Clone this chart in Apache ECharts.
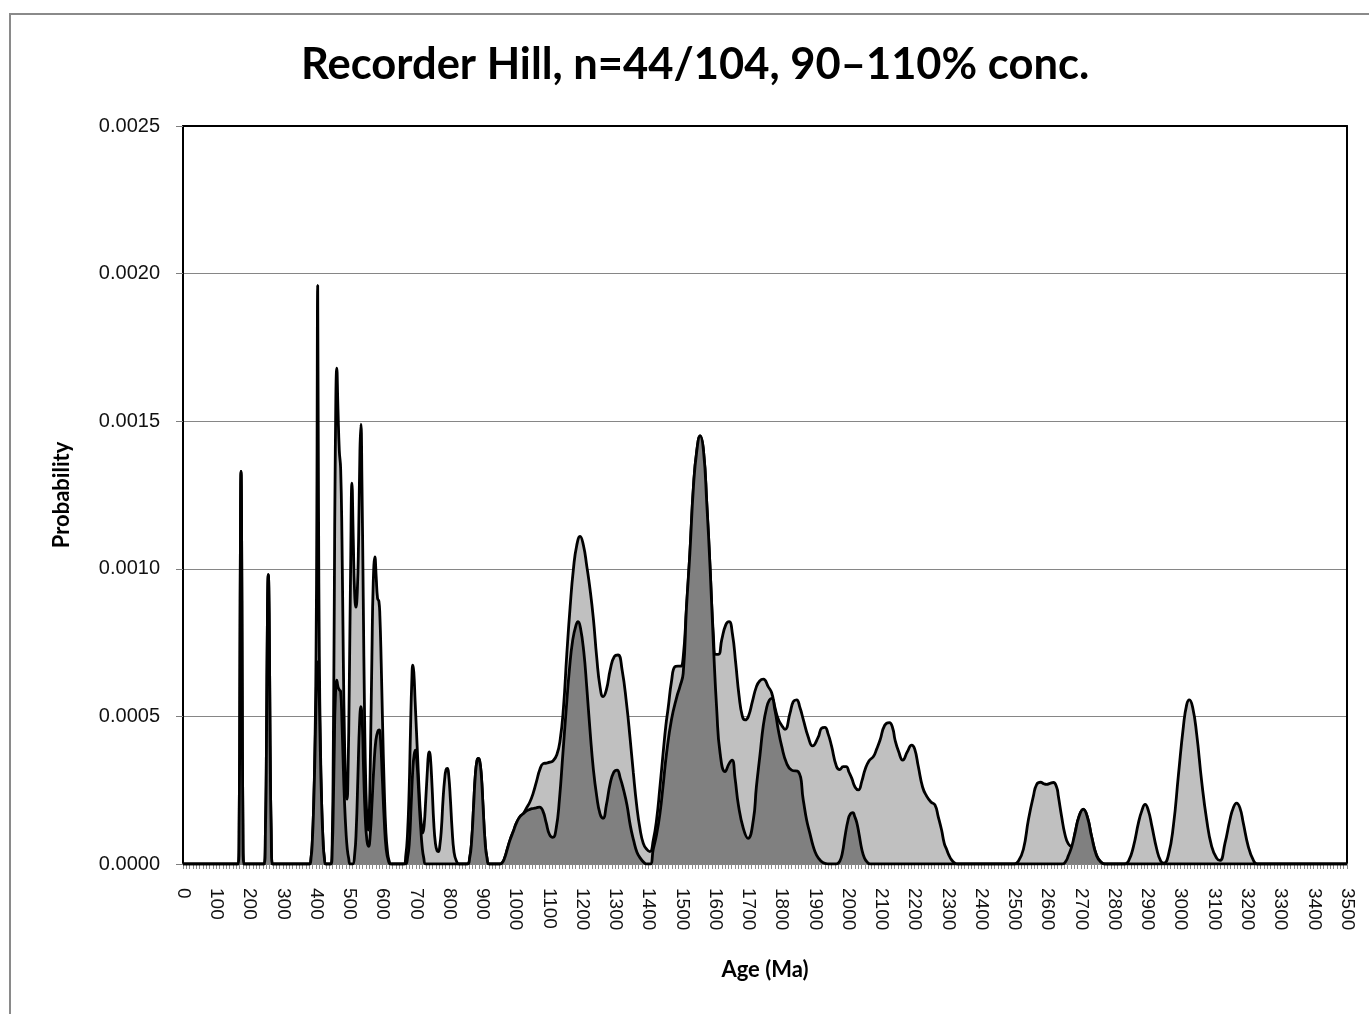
<!DOCTYPE html>
<html>
<head>
<meta charset="utf-8">
<title>Recorder Hill detrital zircon ages</title>
<script src="https://cdn.jsdelivr.net/npm/echarts@6/dist/echarts.min.js"></script>
<style>
  html, body { margin: 0; padding: 0; background: #fff; overflow: hidden; }
  #frame { position: absolute; left: 9px; top: 13px; width: 1420px; height: 1060px;
           border: 2px solid #8a8a8a; box-sizing: border-box; }
  #chart { position: absolute; left: 0; top: 0; width: 1369px; height: 1014px; }
</style>
</head>
<body>
<div id="frame"></div>
<div id="chart"></div>
<script>
// Probability density curves, [age in Ma, probability]
// All analysed grains (n = 104)
const allGrains = [
  [0,0],[160,0],
  [166,0],[169,0.00015],[171,0.0006],[173,0.00118],[174.5,0.00133],[176,0.00118],[178,0.0006],[180,0.00015],[183,0],
  [244,0],[248,0.00012],[251,0.0004],[254,0.00085],[256.5,0.00098],[259,0.00085],[262,0.0004],[265,0.00012],[269,0],
  [380,0],[385,0.00002],[389,0.00008],[393,0.0002],[397,0.00042],[400,0.0007],[402.5,0.0012],[405,0.00196],[407.5,0.0012],[410,0.0007],[413,0.00042],[417,0.0002],[421,0.00008],[425,0.00002],[430,0],
  [445,0],[449,0.0001],[452,0.0004],[455,0.0009],[458,0.0014],[462.5,0.00168],[466,0.00154],[470,0.0014],[474,0.00134],[478,0.0011],[482,0.0007],[486,0.0004],[490,0.00024],[493,0.00022],[496,0.0003],[500,0.0006],[504,0.001],[508,0.00129],[512,0.0011],[516,0.00092],[520,0.00087],[524,0.00092],[528,0.0011],[532,0.0014],[535,0.00149],[538,0.0013],[542,0.0009],[546,0.0005],[550,0.00025],[554,0.00014],[557,0.000115],[560,0.00016],[564,0.0004],[568,0.0007],[572,0.00095],[577,0.00104],[581,0.00097],[585,0.0009],[589,0.00089],[592,0.00084],[596,0.00068],[600,0.00048],[605,0.00026],[610,0.00011],[615,0.00004],[620,0.00001],[626,0],
  [664,0],[670,0.00003],[675,0.0001],[680,0.00025],[684,0.00045],[688,0.00062],[691,0.000674],[694,0.00065],[698,0.00055],[702,0.00045],[706,0.00035],[710,0.00025],[714,0.00017],[718,0.00012],[721,0.000105],[725,0.00013],[730,0.00022],[735,0.00032],[738,0.00037],[741,0.00038],[744,0.00036],[749,0.00026],[754,0.00014],[759,0.00007],[764,0.000045],[768,0.000042],[772,0.00006],[777,0.00012],[782,0.00022],[787,0.00029],[791,0.00032],[795,0.000324],[799,0.0003],[804,0.00022],[809,0.00012],[815,0.00004],[822,0.00001],[830,0],
  [855,0],[862,0.00002],[868,0.00008],[874,0.0002],[879,0.0003],[884,0.00035],[888,0.000358],[892,0.00035],[897,0.0003],[902,0.0002],[908,0.00008],[914,0.00002],[921,0],
  [953,0],[960,0.000005],[967,0.00002],[975,0.00005],[983,0.00008],[993,0.00011],[1003,0.00014],[1013,0.00016],[1023,0.00017],[1033,0.00019],[1043,0.00021],[1053,0.00024],[1063,0.00028],[1073,0.00032],[1083,0.00034],[1093,0.000342],[1103,0.000345],[1113,0.00035],[1124,0.00037],[1134,0.00042],[1144,0.00053],[1154,0.00071],[1164,0.00087],[1174,0.001],[1184,0.00108],[1194,0.00111],[1204,0.00108],[1214,0.00101],[1224,0.00093],[1234,0.00083],[1244,0.0007],[1254,0.0006],[1263,0.000567],[1273,0.00059],[1285,0.00066],[1297,0.000703],[1308,0.000708],[1320,0.00066],[1334,0.00054],[1344,0.00043],[1354,0.00031],[1364,0.0002],[1374,0.00012],[1384,0.00007],[1394,0.00005],[1404,0.000042],[1414,0.00008],[1424,0.00015],[1434,0.00026],[1444,0.00038],[1452,0.00047],[1459,0.00053],[1469,0.00062],[1479,0.000668],[1488,0.00067],[1496,0.00067],[1504,0.0007],[1514,0.00087],[1524,0.00105],[1535,0.00128],[1545,0.0014],[1555,0.00145],[1565,0.0014],[1575,0.00122],[1585,0.001],[1595,0.00077],[1602,0.00071],[1610,0.00071],[1620,0.00076],[1632,0.00081],[1642,0.000821],[1652,0.00078],[1662,0.00068],[1672,0.00057],[1682,0.0005],[1690,0.000488],[1700,0.0005],[1712,0.00055],[1724,0.0006],[1734,0.00062],[1745,0.000626],[1760,0.0006],[1770,0.00058],[1780,0.00053],[1790,0.00049],[1800,0.00047],[1810,0.000456],[1825,0.00051],[1835,0.00055],[1845,0.000556],[1855,0.00053],[1865,0.00049],[1880,0.00043],[1893,0.0004],[1910,0.00043],[1920,0.00046],[1930,0.000463],[1940,0.00044],[1950,0.0004],[1965,0.00033],[1975,0.00032],[1985,0.00033],[1994,0.00033],[2003,0.00031],[2011,0.00029],[2021,0.00026],[2031,0.000251],[2041,0.00028],[2051,0.00032],[2063,0.00035],[2076,0.000364],[2086,0.00039],[2096,0.00042],[2110,0.00047],[2124,0.000479],[2134,0.00046],[2141,0.00042],[2152,0.00038],[2164,0.000352],[2178,0.00038],[2191,0.000403],[2200,0.00039],[2211,0.00033],[2224,0.00026],[2236,0.00023],[2249,0.00021],[2261,0.0002],[2271,0.00016],[2281,0.000115],[2289,0.00007],[2296,0.00005],[2303,0.00003],[2311,0.000014],[2320,0.000004],[2328,0],
  [2500,0],[2512,0.00001],[2527,0.00005],[2542,0.00015],[2557,0.00023],[2567,0.00027],[2579,0.000277],[2588,0.000272],[2597,0.00027],[2607,0.000273],[2617,0.000276],[2627,0.00026],[2632,0.00023],[2642,0.00016],[2652,0.0001],[2662,0.000068],[2672,0.00006],[2682,0.000105],[2694,0.00016],[2707,0.000186],[2719,0.00016],[2732,0.000094],[2747,0.00003],[2762,0.000005],[2772,0],
  [2830,0],[2843,0.00001],[2858,0.00006],[2873,0.00014],[2883,0.00018],[2893,0.000202],[2903,0.00018],[2913,0.00013],[2928,0.00005],[2940,0.00001],[2950,0.000003],[2963,0.00003],[2978,0.00013],[2993,0.0003],[3008,0.000465],[3018,0.00054],[3026,0.000556],[3036,0.00053],[3048,0.00044],[3063,0.00028],[3078,0.00015],[3093,0.00006],[3108,0.00002],[3118,0.000012],[3133,0.00007],[3148,0.00015],[3158,0.00019],[3168,0.000206],[3178,0.00019],[3188,0.00014],[3203,0.00006],[3218,0.000014],[3230,0],
  [3500,0]
];

// Grains within 90-110% concordance (n = 44)
const concordantGrains = [
  [0,0],[160,0],
  [166,0],[169,0.00015],[171,0.0006],[173,0.00118],[174.5,0.00133],[176,0.00118],[178,0.0006],[180,0.00015],[183,0],
  [244,0],[248,0.00012],[251,0.0004],[254,0.00085],[256.5,0.00098],[259,0.00085],[262,0.0004],[265,0.00012],[269,0],
  [380,0],[385,0.00002],[389,0.00008],[393,0.0002],[397,0.00038],[400,0.00055],[402.5,0.00065],[405,0.000685],[407.5,0.00065],[410,0.00055],[413,0.00038],[417,0.0002],[421,0.00008],[425,0.00002],[430,0],
  [445,0],[449,0.00006],[452,0.0002],[455,0.0004],[458,0.00056],[462.5,0.000623],[466,0.0006],[470,0.00059],[474,0.000585],[478,0.00048],[482,0.00033],[486,0.0002],[490,0.00011],[494,0.00005],[498,0.00002],[503,0],
  [510,0],[516,0.00003],[521,0.00012],[526,0.0003],[531,0.00048],[535,0.000533],[539,0.00048],[543,0.00032],[548,0.00016],[553,0.00008],[558,0.00006],[563,0.0001],[568,0.0002],[574,0.00033],[580,0.00042],[586,0.00045],[590,0.000454],[594,0.00042],[599,0.0003],[605,0.00015],[611,0.00005],[618,0.00001],[624,0],
  [668,0],[675,0.00002],[681,0.00008],[686,0.0002],[691,0.00032],[695,0.00037],[699,0.000386],[703,0.00035],[707,0.00028],[711,0.00019],[715,0.00012],[719,0.00006],[724,0.00002],[730,0],
  [855,0],[862,0.00002],[868,0.00008],[874,0.0002],[879,0.0003],[884,0.00035],[888,0.000358],[892,0.00035],[897,0.0003],[902,0.0002],[908,0.00008],[914,0.00002],[921,0],
  [953,0],[960,0.000005],[967,0.00002],[975,0.00005],[983,0.00008],[993,0.00011],[1003,0.00014],[1013,0.00016],[1023,0.00017],[1033,0.00018],[1043,0.000185],[1053,0.000188],[1062,0.00019],[1072,0.000193],[1082,0.00018],[1092,0.00014],[1102,0.0001],[1112,0.00009],[1122,0.00012],[1132,0.00022],[1142,0.00037],[1152,0.00052],[1162,0.00066],[1172,0.00076],[1182,0.00081],[1188,0.000821],[1195,0.0008],[1205,0.00072],[1214,0.0006],[1224,0.00045],[1234,0.00032],[1244,0.00023],[1254,0.00017],[1263,0.000155],[1273,0.0002],[1284,0.00027],[1295,0.00031],[1305,0.000318],[1315,0.00029],[1325,0.00025],[1335,0.0002],[1345,0.00013],[1355,0.00008],[1365,0.00004],[1375,0.00002],[1388,0.000003],[1395,0],
  [1405,0],[1414,0.00005],[1424,0.0001],[1434,0.00017],[1444,0.00027],[1454,0.000375],[1469,0.00049],[1485,0.000567],[1494,0.0006],[1504,0.000646],[1514,0.00087],[1524,0.00105],[1535,0.00128],[1545,0.0014],[1555,0.00145],[1565,0.0014],[1575,0.00122],[1585,0.001],[1595,0.00074],[1605,0.00052],[1615,0.000375],[1630,0.000313],[1642,0.00034],[1651,0.000352],[1660,0.00029],[1670,0.0002],[1685,0.00012],[1699,0.000087],[1715,0.00015],[1724,0.00026],[1735,0.00037],[1745,0.00047],[1755,0.00053],[1763,0.000555],[1770,0.000561],[1780,0.00052],[1790,0.000454],[1800,0.0004],[1815,0.000341],[1830,0.000318],[1850,0.000313],[1865,0.000217],[1875,0.00015],[1885,0.000104],[1895,0.00006],[1905,0.00003],[1918,0.00001],[1930,0.000002],[1945,0],
  [1965,0],[1975,0.00001],[1983,0.00004],[1990,0.00009],[2000,0.00015],[2007,0.00017],[2014,0.000174],[2020,0.00016],[2026,0.00014],[2033,0.0001],[2041,0.00005],[2049,0.00002],[2056,0.000008],[2066,0],
  [2645,0],[2655,0.00001],[2662,0.000028],[2672,0.000058],[2682,0.000104],[2694,0.00016],[2707,0.000185],[2719,0.00016],[2732,0.000093],[2747,0.000028],[2762,0.000004],[2772,0],
  [3500,0]
];

// Axis ranges and labels
const ageMin = 0, ageMax = 3500, ageStep = 100;
const probMin = 0, probMax = 0.0025, probStep = 0.0005;
const titleText = 'Recorder Hill, n=44/104, 90\u2013110% conc.';
const xName = 'Age (Ma)';
const yName = 'Probability';

// Size the title so it spans the intended width
const titleFont = 'Lato';
const measureCtx = document.createElement('canvas').getContext('2d');
measureCtx.font = 'bold 40px ' + titleFont;
const titleSize = Math.round(40 * 789 / measureCtx.measureText(titleText).width * 10) / 10;

const chart = echarts.init(document.getElementById('chart'), null, { renderer: 'canvas' });

const curveSeries = (name, data, fill, z) => ({
  name, type: 'line', data, smooth: 0.5, symbol: 'none', clip: true, z,
  lineStyle: { color: '#000', width: 2.8 },
  areaStyle: { color: fill, opacity: 1 },
  emphasis: { disabled: true }
});

chart.setOption({
  animation: false,
  backgroundColor: 'transparent',
  title: {
    text: titleText, left: 296, top: 38,
    textStyle: { fontFamily: titleFont, fontWeight: 'bold', fontSize: titleSize, color: '#000' }
  },
  grid: { left: 183, right: 22, top: 126, bottom: 150, containLabel: false },
  xAxis: [{
    type: 'value', min: ageMin, max: ageMax, interval: ageStep,
    name: xName, nameLocation: 'middle', nameGap: 95,
    nameTextStyle: { fontFamily: 'Lato', fontWeight: 'bold', fontSize: 22, color: '#000' },
    axisLine: { show: true, onZero: false, lineStyle: { color: '#7f7f7f', width: 1.5 } },
    axisTick: { show: true, length: 5, lineStyle: { color: '#8a8a8a' } },
    minorTick: { show: true, splitNumber: 10, length: 5, lineStyle: { color: '#8a8a8a' } },
    splitLine: { show: false },
    axisLabel: { rotate: -90, margin: 24, fontFamily: 'Liberation Sans', fontSize: 19, color: '#111',
                 formatter: v => String(v) }
  }, {
    type: 'value', position: 'top', min: ageMin, max: ageMax,
    axisLine: { show: true, onZero: false, lineStyle: { color: '#000', width: 2 } },
    axisTick: { show: false }, axisLabel: { show: false }, splitLine: { show: false }
  }],
  yAxis: [{
    type: 'value', min: probMin, max: probMax, interval: probStep,
    name: yName, nameLocation: 'middle', nameGap: 110, nameRotate: 90,
    nameTextStyle: { fontFamily: 'Lato', fontWeight: 'bold', fontSize: 22, color: '#000' },
    axisLine: { show: true, onZero: false, lineStyle: { color: '#000', width: 2 } },
    axisTick: { show: true, length: 7, lineStyle: { color: '#7f7f7f' } },
    splitLine: { show: true, lineStyle: { color: '#868686', width: 1 } },
    axisLabel: { margin: 23, fontFamily: 'Liberation Sans', fontSize: 20, color: '#111',
                 formatter: v => v.toFixed(4) }
  }, {
    type: 'value', position: 'right', min: probMin, max: probMax,
    axisLine: { show: true, onZero: false, lineStyle: { color: '#000', width: 2 } },
    axisTick: { show: false }, axisLabel: { show: false }, splitLine: { show: false }
  }],
  series: [
    curveSeries('All grains (n=104)', allGrains, '#c0c0c0', 2),
    curveSeries('90\u2013110% concordant (n=44)', concordantGrains, '#808080', 3)
  ]
});
</script>
</body>
</html>
